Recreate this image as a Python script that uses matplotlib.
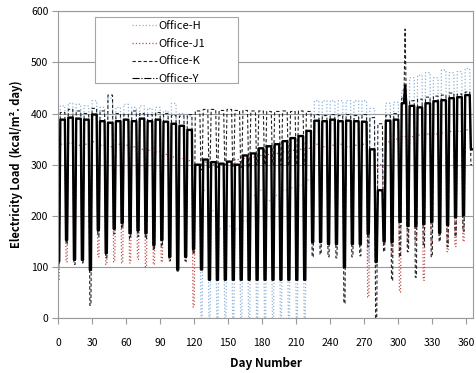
import numpy as np
import matplotlib.pyplot as plt
from matplotlib.patches import Rectangle

# weekly levels per office: weekday (Mon-Fri, weeks 0-51) and weekend (Sat/Sun, weeks 0-52)
# week w -> Sat = day 7w, Sun = day 7w+1, Mon-Fri = days 7w+2 .. 7w+6
h_weekday = [415, 420, 418, 415, 425, 412, 430, 412, 418, 412, 415, 410, 412, 405, 420, 400, 395, 300,
             250, 210, 175, 180, 175, 190, 240, 250, 230, 240, 250, 255, 260, 270,
             425, 425, 425, 425, 425, 425, 425, 410, 330, 420, 422,
             445, 470, 475, 480, 470, 485, 480, 482, 488]
h_weekend = [115, 150, 112, 112, 95, 165, 125, 170, 180, 160, 165, 160, 140, 150, 118, 95, 118, 130,
             0, 0, 0, 0, 0, 0, 0, 0, 0, 0, 0, 0, 0, 0,
             140, 145, 140, 140, 98, 140, 140, 110, 100, 145, 145,
             180, 175, 175, 180, 180, 165, 178, 195, 198, 340]

j1_weekday = [340, 342, 338, 340, 345, 338, 335, 340, 338, 335, 330, 328, 325, 320, 315, 312, 308, 300,
              305, 300, 300, 305, 310, 312, 315, 318, 320, 322, 325, 328, 330, 332,
              340, 335, 338, 340, 335, 338, 340, 330, 300, 345, 350,
              355, 355, 358, 360, 360, 362, 365, 365, 368]
j1_weekend = [75, 110, 115, 110, 105, 120, 105, 110, 108, 108, 115, 100, 105, 110, 115, 120, 110, 22,
              130, 130, 130, 130, 130, 130, 130, 130, 130, 130, 130, 130, 130, 130,
              186, 180, 175, 170, 140, 165, 150, 41, 110, 160, 120,
              51, 140, 150, 74, 140, 160, 130, 140, 150, 320]

k_weekday = [402, 408, 405, 400, 410, 405, 436, 400, 398, 405, 400, 398, 402, 400, 396, 395, 398, 405,
             408, 408, 406, 408, 406, 406, 405, 405, 404, 404, 405, 404, 405, 404,
             398, 396, 398, 396, 398, 396, 398, 392, 380, 396, 400,
             430, 425, 428, 432, 434, 436, 440, 438, 442]
k_weekend = [105, 145, 105, 108, 25, 160, 118, 165, 175, 155, 160, 155, 133, 140, 112, 92, 112, 125,
             290, 295, 295, 300, 295, 295, 295, 300, 300, 300, 300, 300, 300, 300,
             120, 125, 120, 118, 29, 120, 122, 140, 0, 130, 74,
             120, 130, 80, 140, 120, 150, 140, 160, 170, 300]

y_weekday = [388, 392, 390, 388, 398, 385, 382, 385, 388, 385, 390, 385, 388, 384, 380, 376, 368, 300,
             310, 305, 302, 306, 300, 318, 322, 332, 336, 340, 346, 352, 356, 366,
             386, 385, 388, 385, 386, 385, 384, 330, 250, 386, 388,
             420, 415, 412, 420, 424, 426, 430, 432, 436]
y_weekend = [112, 153, 114, 114, 94, 172, 127, 175, 186, 166, 172, 166, 143, 153, 120, 95, 120, 135,
             95, 75, 75, 75, 75, 75, 75, 75, 75, 75, 75, 75, 75, 75,
             149, 149, 145, 145, 100, 145, 145, 165, 110, 150, 149,
             188, 180, 180, 184, 188, 167, 182, 198, 201, 330]

# single-day peaks
k_spikes = {306: 565}
y_spikes = {306: 455}

days = np.arange(1, 366)


def daily(weekday, weekend, spikes=None):
    week = days // 7
    dow = days % 7
    wd = np.array(weekday + [weekday[-1]])
    we = np.array(weekend)
    vals = np.where(dow < 2, we[week], wd[week]).astype(float)
    for d, v in (spikes or {}).items():
        vals[d - 1] = v
    return vals


plt.rcParams['font.family'] = ['Noto Sans CJK KR', 'DejaVu Sans']

fig = plt.figure(figsize=(4.76, 3.73), dpi=100)
ax = fig.add_axes([0.122, 0.147, 0.872, 0.823])

ax.plot(days, daily(h_weekday, h_weekend), color='#8eb1da', ls=':', lw=0.9, label='Office-H')
ax.plot(days, daily(j1_weekday, j1_weekend), color='#c0504d', ls=':', lw=0.9, label='Office-J1')
ax.plot(days, daily(k_weekday, k_weekend, k_spikes), color='#222222', ls=(0, (3, 2)), lw=0.8,
        label='Office-K')
ax.plot(days, daily(y_weekday, y_weekend, y_spikes), color='black', ls='-', lw=1.7, label='Office-Y')

ax.set_xlim(0, 366)
ax.set_ylim(0, 600)
ax.set_xticks(range(0, 361, 30))
ax.set_yticks(range(0, 601, 100))
ax.grid(axis='y', color='#9a9a9a', lw=0.8)
ax.set_axisbelow(True)
for s in ax.spines.values():
    s.set_color('#9a9a9a')
ax.tick_params(axis='x', length=4, pad=10, color='#9a9a9a', labelsize=7.5)
ax.tick_params(axis='y', length=4, pad=3, color='#9a9a9a', labelsize=7.5)
ax.set_xlabel('Day Number', fontsize=8.5, fontweight='bold', labelpad=7)
ax.set_ylabel('Electricity Load  (kcal/m². day)', fontsize=8, fontweight='bold', labelpad=6)

# legend box drawn separately, entries placed inside it
ax.add_patch(Rectangle((0.089, 0.765), 0.345, 0.215, transform=ax.transAxes,
                       facecolor='white', edgecolor='#a6a6a6', lw=0.8, zorder=4))
leg = ax.legend(loc='upper left', bbox_to_anchor=(0.179, 0.967), frameon=False,
                fontsize=8, handlelength=2.2, handletextpad=0.1, labelspacing=0.68,
                borderpad=0, borderaxespad=0)
leg.set_zorder(5)
leg.get_lines()[3].set_linestyle('-.')
leg.get_lines()[3].set_linewidth(0.8)

fig.savefig('out.png', dpi=100)
